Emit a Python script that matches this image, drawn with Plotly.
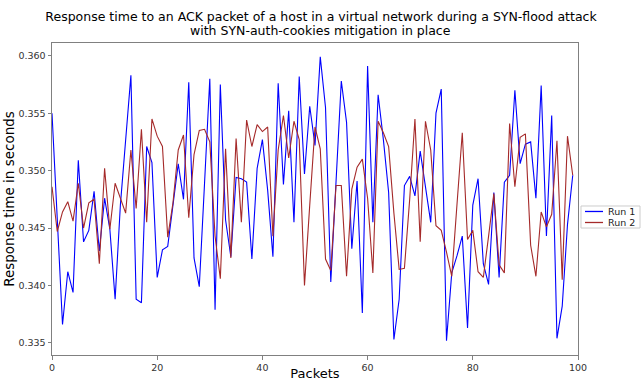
import plotly.graph_objects as go

packets = list(range(100))

run1 = [0.3550, 0.3460, 0.3366, 0.3412, 0.3394, 0.3509, 0.3438, 0.3448, 0.3482, 0.3430,
        0.3476, 0.3449, 0.3388, 0.3470, 0.3525, 0.3583, 0.3388, 0.3385, 0.3521, 0.3507,
        0.3407, 0.3431, 0.3434, 0.3468, 0.3506, 0.3475, 0.3577, 0.3424, 0.3399, 0.3489,
        0.3580, 0.3379, 0.3575, 0.3457, 0.3425, 0.3494, 0.3493, 0.3490, 0.3423, 0.3502,
        0.3527, 0.3483, 0.3425, 0.3576, 0.3488, 0.3552, 0.3455, 0.3582, 0.3497, 0.3556,
        0.3522, 0.3599, 0.3555, 0.3403, 0.3487, 0.3578, 0.3542, 0.3432, 0.3491, 0.3376,
        0.3591, 0.3455, 0.3566, 0.3527, 0.3481, 0.3353, 0.3388, 0.3487, 0.3495, 0.3478,
        0.3517, 0.3484, 0.3455, 0.3550, 0.3571, 0.3352, 0.3411, 0.3426, 0.3443, 0.3363,
        0.3470, 0.3493, 0.3419, 0.3401, 0.3481, 0.3407, 0.3490, 0.3496, 0.3570, 0.3506,
        0.3523, 0.3525, 0.3476, 0.3574, 0.3443, 0.3548, 0.3354, 0.3382, 0.3453, 0.3496]

run2 = [0.3486, 0.3447, 0.3464, 0.3473, 0.3456, 0.3489, 0.3450, 0.3472, 0.3475, 0.3419,
        0.3502, 0.3449, 0.3489, 0.3476, 0.3463, 0.3518, 0.3467, 0.3536, 0.3455, 0.3545,
        0.3530, 0.3521, 0.3442, 0.3472, 0.3518, 0.3531, 0.3459, 0.3514, 0.3535, 0.3536,
        0.3525, 0.3443, 0.3406, 0.3519, 0.3424, 0.3528, 0.3455, 0.3544, 0.3521, 0.3540,
        0.3534, 0.3538, 0.3443, 0.3518, 0.3548, 0.3511, 0.3543, 0.3527, 0.3400, 0.3470,
        0.3538, 0.3519, 0.3423, 0.3413, 0.3487, 0.3487, 0.3408, 0.3484, 0.3503, 0.3510,
        0.3476, 0.3411, 0.3543, 0.3533, 0.3521, 0.3463, 0.3414, 0.3415, 0.3475, 0.3545,
        0.3438, 0.3543, 0.3518, 0.3452, 0.3448, 0.3429, 0.3408, 0.3471, 0.3533, 0.3440,
        0.3448, 0.3412, 0.3407, 0.3443, 0.3480, 0.3418, 0.3411, 0.3541, 0.3486, 0.3529,
        0.3532, 0.3435, 0.3408, 0.3464, 0.3451, 0.3462, 0.3526, 0.3405, 0.3530, 0.3496]

series_names = ["Run 1", "Run 2"]
series_colors = ["#0000ff", "#a52a2a"]

y_ticks = [0.335, 0.340, 0.345, 0.350, 0.355, 0.360]
x_ticks = [0, 20, 40, 60, 80, 100]

title_line1 = "Response time to an ACK packet of a host in a virtual network during a SYN-flood attack"
title_line2 = "with SYN-auth-cookies mitigation in place"
y_title = "Response time in seconds"
x_title = "Packets"

font_family = "DejaVu Sans"

fig = go.Figure()
for name, vals, col in zip(series_names, [run1, run2], series_colors):
    fig.add_trace(go.Scatter(x=packets, y=vals, mode="lines", name=name,
                             line=dict(color=col, width=1.1), showlegend=False))

axis_common = dict(showline=True, linecolor="#808080", linewidth=1, mirror=True,
                   ticks="outside", ticklen=3.5, tickcolor="#808080", showgrid=False,
                   zeroline=False, automargin=False,
                   tickfont=dict(family=font_family, size=9.5, color="#333333"))

# compact legend box (drawn to fit the narrow right margin)
leg_x0, leg_x1 = 1.0057, 1.1179
leg_y0, leg_y1 = 0.407, 0.4776
line_x0, line_x1 = 1.0133, 1.0475
text_x = 1.0532
row_y = [0.460, 0.4247]
shapes = [dict(type="rect", xref="paper", yref="paper", x0=leg_x0, x1=leg_x1, y0=leg_y0, y1=leg_y1,
               line=dict(color="#cccccc", width=1), fillcolor="white", layer="above")]
annotations = []
for name, col, ry in zip(series_names, series_colors, row_y):
    shapes.append(dict(type="line", xref="paper", yref="paper", x0=line_x0, x1=line_x1, y0=ry, y1=ry,
                       line=dict(color=col, width=1.3), layer="above"))
    annotations.append(dict(text=name, xref="paper", yref="paper", x=text_x, y=ry,
                            xanchor="left", yanchor="middle", showarrow=False,
                            font=dict(family=font_family, size=9.5, color="#222222")))

# second title line
annotations.append(dict(text=title_line2, xref="paper", yref="paper", x=0.5114, y=1.0385,
                        xanchor="center", yanchor="middle", showarrow=False,
                        font=dict(family=font_family, size=12.5, color="black")))

fig.update_layout(
    width=642, height=381,
    margin=dict(l=52, r=64, t=43, b=26, autoexpand=False),
    paper_bgcolor="white", plot_bgcolor="white",
    font=dict(family=font_family, color="black"),
    title=dict(text=title_line1,
               x=0.5, xref="container", xanchor="center", y=0.9554, yref="container", yanchor="middle",
               font=dict(family=font_family, size=12.5, color="black")),
    xaxis=dict(range=[0, 100], tickvals=x_ticks,
               title=dict(text=x_title, font=dict(family=font_family, size=13), standoff=2),
               **axis_common),
    yaxis=dict(range=[0.33395, 0.36111], tickvals=y_ticks, tickformat=".3f",
               title=dict(text=y_title, font=dict(family=font_family, size=13.5), standoff=0),
               **axis_common),
    shapes=shapes,
    annotations=annotations,
    showlegend=False,
)

fig.write_html("out.html")
